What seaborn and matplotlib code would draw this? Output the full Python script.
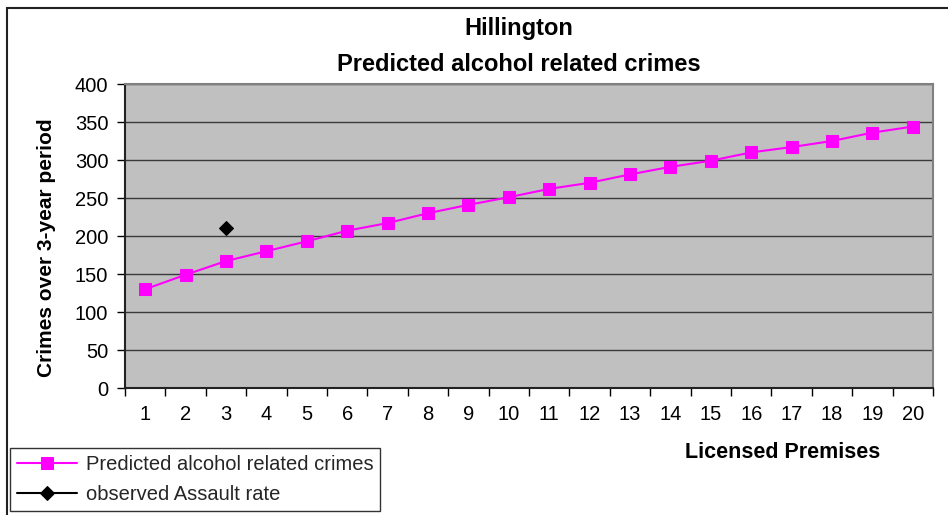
import numpy as np
import pandas as pd
import matplotlib
matplotlib.use("Agg")
import matplotlib.pyplot as plt
import seaborn as sns
from matplotlib.patches import Rectangle

premises = list(range(1, 21))
predicted = [130, 149, 167, 180, 193, 207, 217, 230, 241, 251,
             262, 270, 281, 291, 299, 310, 317, 325, 336, 344]
observed_x = [3]
observed_y = [211]
yticks = [0, 50, 100, 150, 200, 250, 300, 350, 400]

title_line1 = "Hillington"
title_line2 = "Predicted alcohol related crimes"
xlabel_text = "Licensed Premises"
ylabel_text = "Crimes over 3-year period"
series_labels = ["Predicted alcohol related crimes", "observed Assault rate"]

sns.set_theme(style="white")
plt.rcParams['font.family'] = ['Liberation Sans', 'DejaVu Sans']

W, H = 948, 515
fig = plt.figure(figsize=(W / 100, H / 100), dpi=100)
fig.patch.set_facecolor("white")

# outer chart border (cropped chart area)
fig.patches.append(Rectangle((7 / W, -0.1), 1.2, 1 - 8 / H + 0.1, transform=fig.transFigure,
                             fill=False, edgecolor="#222222", linewidth=1.5, zorder=0))

ax = fig.add_axes([125 / W, 1 - 388 / H, (933 - 125) / W, (388 - 84) / H])
ax.set_facecolor("#c0c0c0")

df = pd.DataFrame({"premises": premises, "predicted": predicted})
sns.lineplot(data=df, x="premises", y="predicted", ax=ax, color="#ff00ff",
             marker="s", markersize=8.5, markeredgecolor="#ff00ff", linewidth=1.5,
             label=series_labels[0], zorder=4)
dfo = pd.DataFrame({"premises": observed_x, "observed": observed_y})
sns.lineplot(data=dfo, x="premises", y="observed", ax=ax, color="black",
             marker="D", markersize=7, markeredgecolor="black", linewidth=1.5,
             label=series_labels[1], zorder=5)

tick_fs = 14.5
ax.set_xlim(0.5, 20.5)
ax.set_ylim(0, 400)
ax.set_yticks(yticks)
ax.set_yticklabels([str(v) for v in yticks], fontsize=tick_fs)
ax.set_xticks(premises)
ax.set_xticklabels([str(v) for v in premises], fontsize=tick_fs)
ax.set_xticks(np.arange(0.5, 21, 1), minor=True)
ax.tick_params(axis="x", which="major", length=0, pad=12)
ax.tick_params(axis="x", which="minor", length=6, width=1, color="black", direction="out", bottom=True)
ax.tick_params(axis="y", which="major", length=6, width=1, color="black", direction="out", left=True, pad=6)
for t in ax.get_yticklabels() + ax.get_xticklabels():
    t.set_color("black")

ax.grid(axis="y", color="#3a3a3a", linewidth=1.0, zorder=1)
ax.set_axisbelow(True)
for side in ["top", "right"]:
    ax.spines[side].set_color("#808080")
    ax.spines[side].set_linewidth(1.5)
for side in ["left", "bottom"]:
    ax.spines[side].set_color("#222222")
    ax.spines[side].set_linewidth(1.5)

ax.set_xlabel("")
ax.set_ylabel("")

fig.text(519 / W, 1 - 29 / H, title_line1, ha="center", va="center",
         fontsize=17, fontweight="bold", color="black")
fig.text(519 / W, 1 - 65 / H, title_line2, ha="center", va="center",
         fontsize=17, fontweight="bold", color="black")
fig.text(47 / W, 1 - 248 / H, ylabel_text, rotation=90, ha="center", va="center",
         fontsize=15, fontweight="bold", color="black")
fig.text(783 / W, 1 - 452 / H, xlabel_text, ha="center", va="center",
         fontsize=15.5, fontweight="bold", color="black")

handles, labels = ax.get_legend_handles_labels()
if ax.legend_:
    ax.legend_.remove()
leg = fig.legend(handles, labels, loc="upper left", bbox_to_anchor=(10 / W, 1 - 448 / H),
                 bbox_transform=fig.transFigure, frameon=True, fancybox=False,
                 edgecolor="black", fontsize=14.5, handlelength=3.0, handletextpad=0.4,
                 labelspacing=0.55, borderpad=0.35, borderaxespad=0)
leg.get_frame().set_linewidth(1.0)

fig.savefig("out.png", dpi=100)
